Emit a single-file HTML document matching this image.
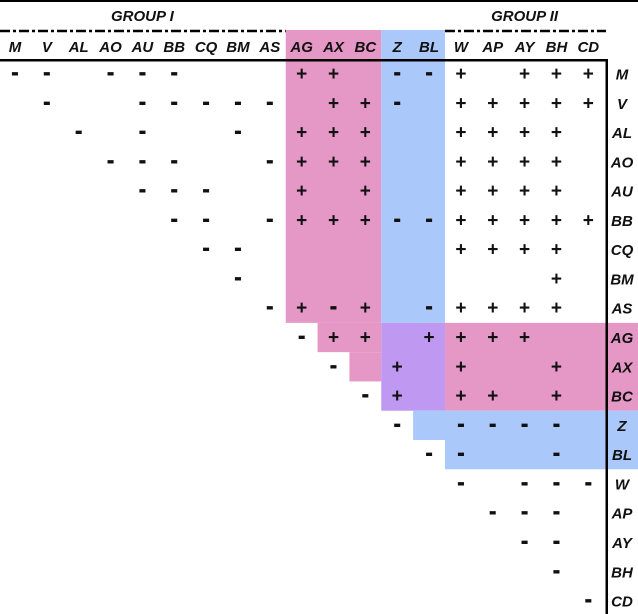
<!DOCTYPE html>
<html><head><meta charset="utf-8">
<style>
html,body{margin:0;padding:0;background:#fff;}
svg{display:block;}
text{font-family:"Liberation Sans",Arial,sans-serif;font-weight:bold;}
</style></head>
<body>
<svg id="chart" width="638" height="614" xmlns="http://www.w3.org/2000/svg"></svg>
<script>
const labels = ["M","V","AL","AO","AU","BB","CQ","BM","AS","AG","AX","BC","Z","BL","W","AP","AY","BH","CD"];
const rowM  = ["-","-","","-","-","-","","","","+","+","","-","-","+","","+","+","+"];
const rowV  = ["","-","","","-","-","-","-","-","","+","+","-","","+","+","+","+","+"];
const rowAL = ["","","-","","-","","","-","","+","+","+","","","+","+","+","+",""];
const rowAO = ["","","","-","-","-","","","-","+","+","+","","","+","+","+","+",""];
const rowAU = ["","","","","-","-","-","","","+","","+","","","+","+","+","+",""];
const rowBB = ["","","","","","-","-","","-","+","+","+","-","-","+","+","+","+","+"];
const rowCQ = ["","","","","","","-","-","","","","","","","+","+","+","+",""];
const rowBM = ["","","","","","","","-","","","","","","","","","","+",""];
const rowAS = ["","","","","","","","","-","+","-","+","","-","+","+","+","+",""];
const rowAG = ["","","","","","","","","","-","+","+","","+","+","+","+","",""];
const rowAX = ["","","","","","","","","","","-","","+","","+","","","+",""];
const rowBC = ["","","","","","","","","","","","-","+","","+","+","","+",""];
const rowZ  = ["","","","","","","","","","","","","-","","-","-","-","-",""];
const rowBL = ["","","","","","","","","","","","","","-","-","","","-",""];
const rowW  = ["","","","","","","","","","","","","","","-","","-","-","-"];
const rowAP = ["","","","","","","","","","","","","","","","-","-","-",""];
const rowAY = ["","","","","","","","","","","","","","","","","-","-",""];
const rowBH = ["","","","","","","","","","","","","","","","","","-",""];
const rowCD = ["","","","","","","","","","","","","","","","","","","-"];
const matrix = [rowM,rowV,rowAL,rowAO,rowAU,rowBB,rowCQ,rowBM,rowAS,rowAG,rowAX,rowBC,rowZ,rowBL,rowW,rowAP,rowAY,rowBH,rowCD];

const NS="http://www.w3.org/2000/svg";
const svg=document.getElementById('chart');
const CW=31.85, X0=15, RH=29.28, Y0=74;
const cx=i=>X0+i*CW;
const cy=j=>Y0+j*RH;
const cl=i=>cx(i)-CW/2;
const rt=j=>cy(j)-RH/2;
function mk(tag,attrs){const e=document.createElementNS(NS,tag);for(const k in attrs)e.setAttribute(k,attrs[k]);svg.appendChild(e);return e;}
const PINK="#e597c6", BLUE="#aac8fa", PURP="#bf98f2";
function rect(x1,y1,x2,y2,fill,name){const r=mk('rect',{x:x1,y:y1,width:x2-x1,height:y2-y1,fill:fill});

}
rect(cl(9),30,cl(12),rt(9),PINK,'group-ag-column-band');
rect(cl(12),30,cl(14),rt(9),BLUE,'group-z-column-band');
rect(cl(10),rt(9),cl(12),rt(10),PINK,'ag-row-pink');
rect(cl(11),rt(10),cl(12),rt(11),PINK,'ax-row-pink');
rect(cl(12),rt(9),cl(14),rt(12),PURP,'overlap-band');
rect(cl(14),rt(9),638,rt(12),PINK,'group-ag-row-band');
rect(cl(13),rt(12),638,rt(13),BLUE,'z-row-band');
rect(cl(14),rt(13),638,rt(14),BLUE,'bl-row-band');
let l=mk('rect',{x:0,y:0,width:638,height:2,fill:'#000'});


l=mk('rect',{x:0,y:59,width:608,height:2.5,fill:'#000'});


l=mk('rect',{x:605.5,y:59,width:2.5,height:555,fill:'#000'});


l=mk('line',{x1:0,y1:31,x2:cl(9),y2:31,stroke:'#000','stroke-width':2.5,'stroke-dasharray':'10 3 3 3'});


l=mk('line',{x1:cl(14),y1:31,x2:606,y2:31,stroke:'#000','stroke-width':2.5,'stroke-dasharray':'10 3 3 3'});


function txt(x,y,s,size,name,italic){const t=mk('text',{x:x,y:y,'text-anchor':'middle','font-size':size,'font-style':italic?'italic':'normal',fill:'#111'});t.textContent=s;

return t;}
txt(cx(4),21,'GROUP I',15,'group-i-title',true);
txt(cx(16),21,'GROUP II',15,'group-ii-title',true);
labels.forEach((s,i)=>{
  txt(cx(i),52,s,15,'column-label-'+s.toLowerCase(),true);
  txt(622,cy(i)+5.5,s,15,'row-label-'+s.toLowerCase(),true);
});
matrix.forEach((row,j)=>{row.forEach((v,i)=>{
  if(!v)return;
  const t=txt(cx(i),cy(j)+(v==='+'?6:5),v==='-'?'-':'+',v==='+'?19:20,'cell-'+labels[j].toLowerCase()+'-'+labels[i].toLowerCase(),false);
  if(v==='-'){t.setAttribute('stroke','#111');t.setAttribute('stroke-width','1');}
});});
</script>
</body></html>
